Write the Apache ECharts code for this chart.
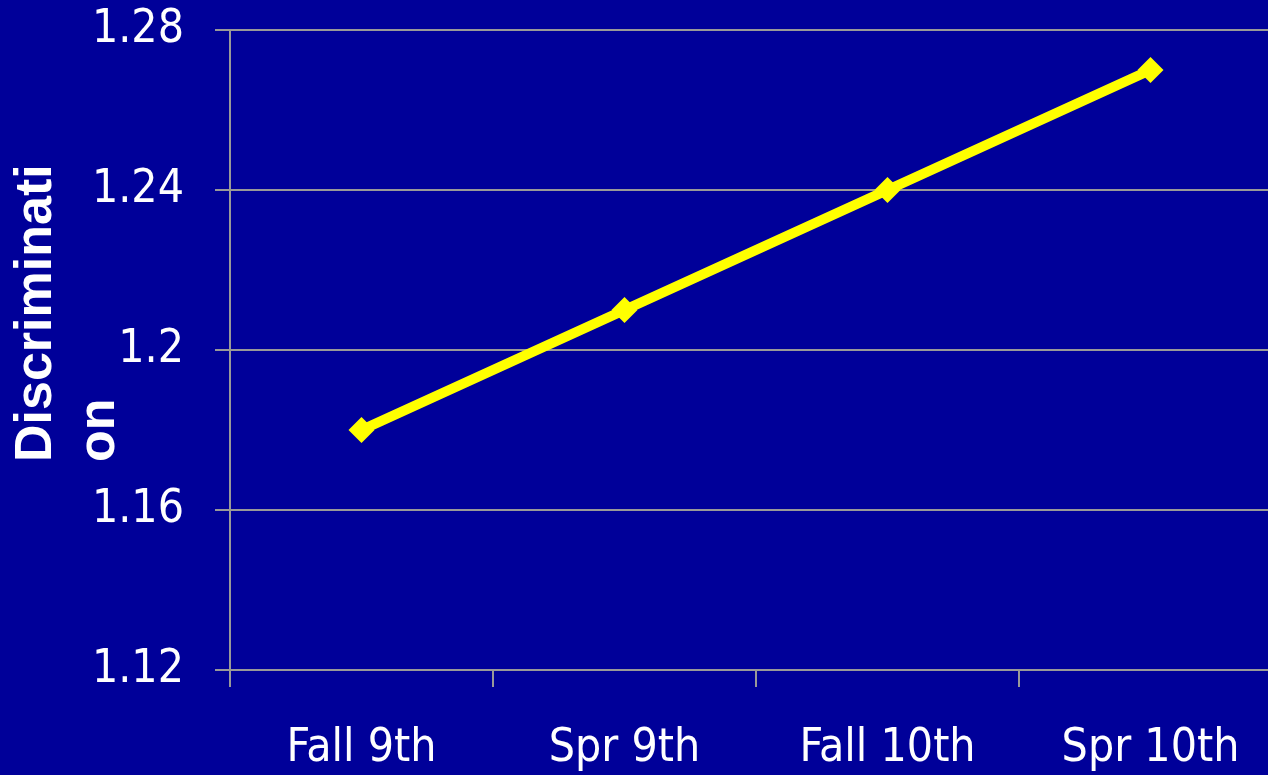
<!DOCTYPE html>
<html>
<head>
<meta charset="utf-8">
<script src="https://cdn.jsdelivr.net/npm/echarts@6/dist/echarts.min.js"></script>
<style>
  html, body { margin: 0; padding: 0; background: #000099; overflow: hidden; }
  /* the plot runs slightly past the right edge of the picture */
  #myChart { width: 1282px; height: 775px; }
</style>
</head>
<body>
<div id="myChart"></div>
<script>
// data
const categories = ['Fall 9th', 'Spr 9th', 'Fall 10th', 'Spr 10th'];
const discrimination = [1.18, 1.21, 1.24, 1.27];
const yTicks = { min: 1.12, max: 1.28, interval: 0.04 };
const yTitle = 'Discriminati\non';

const myChart = echarts.init(document.getElementById('myChart'));
const gray = '#999999';
const tickFont = 'DejaVu Sans Condensed';

myChart.setOption({
  backgroundColor: '#000099',
  animation: false,
  grid: {
    left: 230,
    right: 0,
    top: 30,
    bottom: 105
  },
  graphic: [{
    type: 'text',
    x: 5,
    y: 462,
    rotation: Math.PI / 2,
    style: {
      text: yTitle,
      fill: '#ffffff',
      font: 'bold 52px "Liberation Sans", Arial, sans-serif',
      lineHeight: 63,
      align: 'left',
      verticalAlign: 'top'
    }
  }],
  xAxis: {
    type: 'category',
    data: categories,
    boundaryGap: true,
    axisLine: { lineStyle: { color: gray, width: 2 } },
    axisTick: { show: true, length: 17, lineStyle: { color: gray, width: 2 } },
    axisLabel: {
      color: '#ffffff',
      fontFamily: tickFont,
      fontSize: 46,
      margin: 56
    }
  },
  yAxis: {
    type: 'value',
    min: yTicks.min,
    max: yTicks.max,
    interval: yTicks.interval,
    axisLine: { show: true, lineStyle: { color: gray, width: 2 } },
    axisTick: { show: true, length: 15, lineStyle: { color: gray, width: 2 } },
    splitLine: { show: true, lineStyle: { color: gray, width: 2 } },
    axisLabel: {
      color: '#ffffff',
      fontFamily: tickFont,
      fontSize: 46,
      margin: 46,
      formatter: function (v) {
        return String(parseFloat(v.toFixed(2)));
      }
    }
  },
  series: [{
    type: 'line',
    data: discrimination,
    symbol: 'diamond',
    symbolSize: 26,
    lineStyle: { color: '#ffff00', width: 10 },
    itemStyle: { color: '#ffff00' }
  }]
});
</script>
</body>
</html>
